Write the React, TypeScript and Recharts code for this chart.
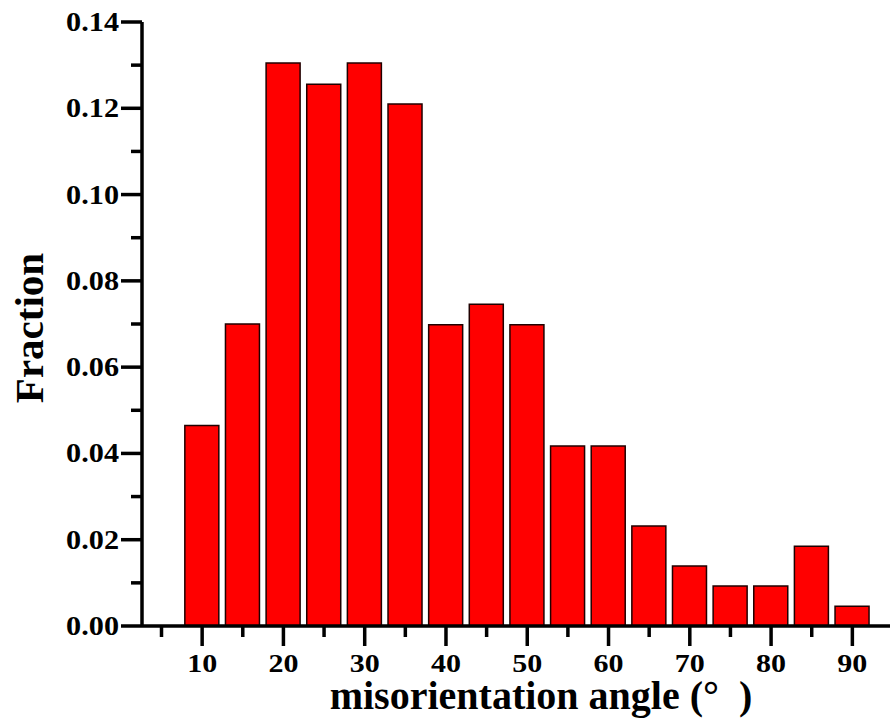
import { BarChart, Bar, XAxis, YAxis, Label } from "recharts";

const angles = [10, 15, 20, 25, 30, 35, 40, 45, 50, 55, 60, 65, 70, 75, 80, 85, 90];
const fractions = [
  0.0465, 0.07, 0.1305, 0.1256, 0.1305, 0.121, 0.0698, 0.0746, 0.0698,
  0.0417, 0.0417, 0.0232, 0.0139, 0.0093, 0.0093, 0.0185, 0.0046,
];
const xTicks = [5, 10, 15, 20, 25, 30, 35, 40, 45, 50, 55, 60, 65, 70, 75, 80, 85, 90, 95];
const yTicks = [0, 0.01, 0.02, 0.03, 0.04, 0.05, 0.06, 0.07, 0.08, 0.09, 0.1, 0.11, 0.12, 0.13, 0.14];
const yLabels = ["0.00", "0.02", "0.04", "0.06", "0.08", "0.10", "0.12", "0.14"];

const data = angles.map((angle, i) => ({ angle, fraction: fractions[i] }));

const textStyle = { fontFamily: "Liberation Serif, Times New Roman, serif", fontWeight: 700 };

const XTick = ({ x, y, payload }: any) => {
  const major = payload.value % 10 === 0;
  return (
    <g>
      <line x1={x} x2={x} y1={y} y2={y + (major ? 20 : 11)} stroke="#000" strokeWidth={3.5} />
      {major && (
        <text
          transform={`translate(${x},${y + 46}) scale(1.2,1)`}
          textAnchor="middle"
          style={textStyle}
          fontSize={25}
          fill="#000"
        >
          {payload.value}
        </text>
      )}
    </g>
  );
};

const YTick = ({ x, y, index }: any) => {
  const major = index % 2 === 0;
  return (
    <g>
      <line x1={x} x2={x - (major ? 21 : 11)} y1={y} y2={y} stroke="#000" strokeWidth={3.5} />
      {major && (
        <text
          transform={`translate(${x - 23},${y + 9}) scale(1.12,1)`}
          textAnchor="end"
          style={textStyle}
          fontSize={27}
          fill="#000"
        >
          {yLabels[index / 2]}
        </text>
      )}
    </g>
  );
};

export default function App() {
  return (
    <div style={{ position: "absolute", left: 0, top: 0, width: 890, height: 718, overflow: "hidden", background: "#fff" }}>
      <BarChart width={900} height={718} data={data} margin={{ top: 22, right: 7, left: 0, bottom: 0 }}>
        <XAxis
          dataKey="angle"
          type="number"
          domain={[2.6, 95]}
          ticks={xTicks}
          interval={0}
          height={92}
          tickSize={0}
          tickMargin={0}
          tickLine={false}
          tick={<XTick />}
          axisLine={{ stroke: "#000", strokeWidth: 3.5 }}
          allowDataOverflow
        >
          <Label
            content={() => (
              <text
                x={541}
                y={709}
                textAnchor="middle"
                style={{ ...textStyle, whiteSpace: "pre" }}
                fontSize={40}
                fill="#000"
              >
                {"misorientation angle (°  )"}
              </text>
            )}
          />
        </XAxis>
        <YAxis
          type="number"
          domain={[0, 0.14]}
          ticks={yTicks}
          interval={0}
          width={142}
          tickSize={0}
          tickMargin={0}
          tickLine={false}
          tick={<YTick />}
          axisLine={{ stroke: "#000", strokeWidth: 3.5 }}
        >
          <Label
            content={() => (
              <text
                transform="translate(43,328) rotate(-90)"
                textAnchor="middle"
                style={textStyle}
                fontSize={41}
                fill="#000"
              >
                Fraction
              </text>
            )}
          />
        </YAxis>
        <Bar
          dataKey="fraction"
          barSize={34}
          fill="#ff0000"
          stroke="#200000"
          strokeWidth={1.5}
          isAnimationActive={false}
        />
      </BarChart>
    </div>
  );
}
